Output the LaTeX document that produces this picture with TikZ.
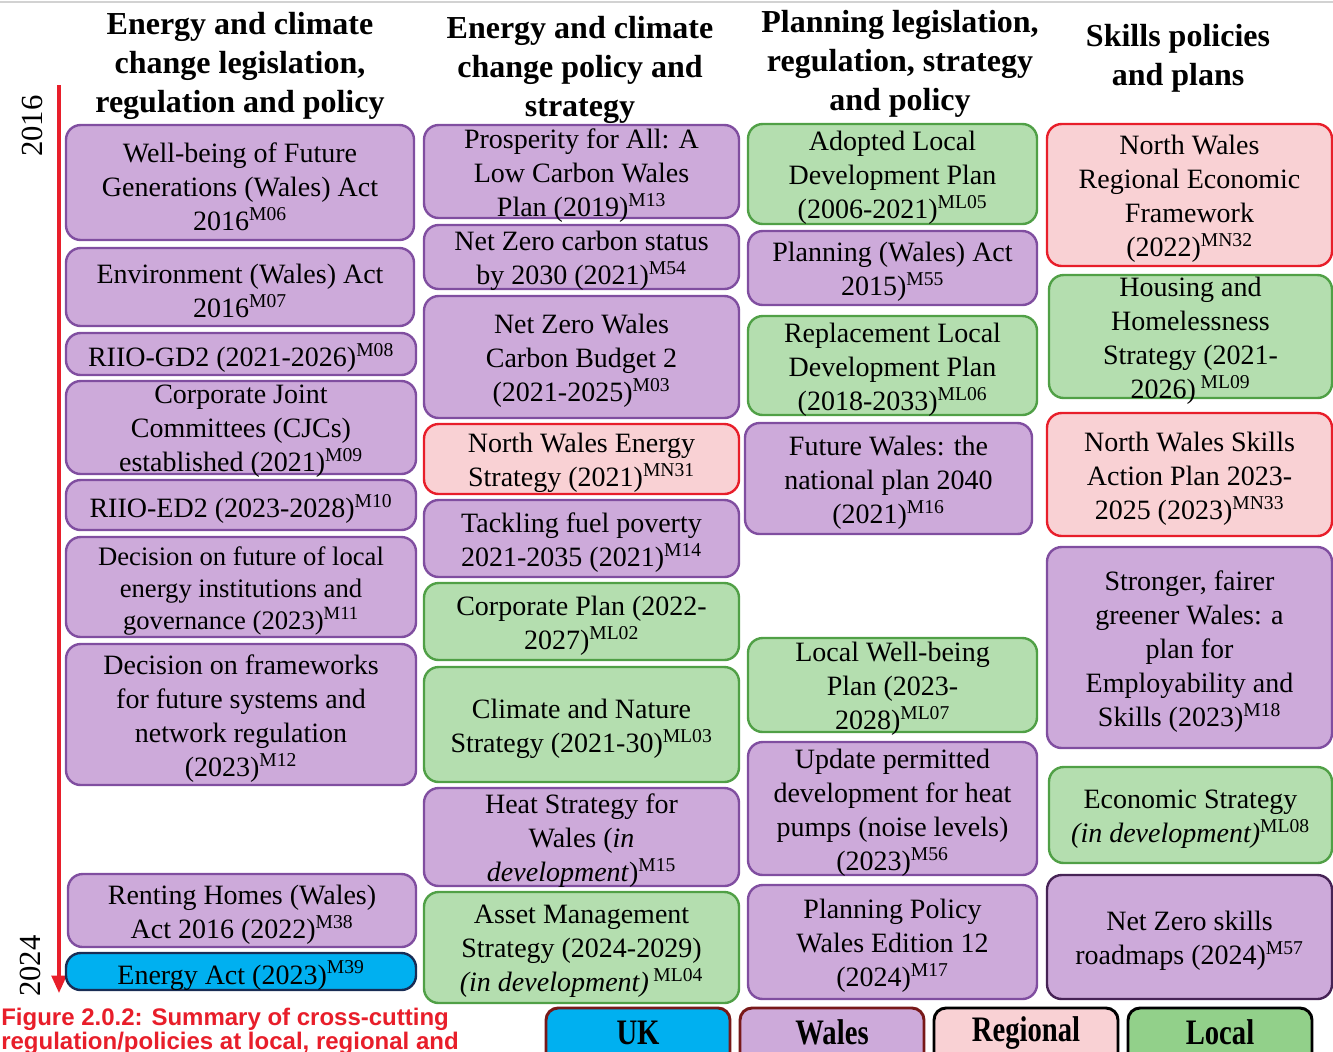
\documentclass[tikz,border=0pt]{standalone}
\usepackage{fontspec}
\usepackage{xcolor}
\usepackage{graphicx}
\usepackage{tikz}
\setmainfont{Liberation Serif}
\newfontfamily\capfont{Liberation Sans}
\usetikzlibrary{arrows.meta}

\definecolor{walesfill}{RGB}{205,170,218}
\definecolor{walesline}{RGB}{128,78,160}
\definecolor{localfill}{RGB}{180,222,175}
\definecolor{localline}{RGB}{80,160,70}
\definecolor{regfill}{RGB}{249,209,212}
\definecolor{regline}{RGB}{232,30,42}
\definecolor{ukfill}{RGB}{0,176,240}
\definecolor{ukline}{RGB}{25,45,85}
\definecolor{legfill}{RGB}{146,208,138}
\definecolor{legmaroon}{RGB}{120,25,25}
\definecolor{darkpurple}{RGB}{70,35,85}

\newcommand{\sref}[1]{\textsuperscript{#1}}
% box: [text opts], style, name, x1, y1, x2, y2, text
\newcommand{\policy}[8][]{%
  \draw[#2] (#4,#5) rectangle (#6,#7);
  \node[txt,#1] (#3) at ({(#4+#6)/2},{(#5+#7)/2}) {#8};}

\begin{document}
\begin{tikzpicture}[x=0.75pt,y=-0.75pt,
    box/.style={line width=1.8pt,rounded corners=11pt},
    wales/.style={box,draw=walesline,fill=walesfill},
    local/.style={box,draw=localline,fill=localfill},
    regional/.style={box,draw=regline,fill=regfill},
    uk/.style={box,draw=ukline,fill=ukfill},
    legbox/.style={line width=2.2pt,rounded corners=9pt},
    txt/.style={align=center,inner sep=0pt,yshift=-3pt,font=\fontsize{21}{25.5}\selectfont},
    legtxt/.style={inner sep=0pt,yshift=7pt,font=\bfseries\fontsize{21.5}{25}\selectfont},
    head/.style={align=center,inner sep=0pt,yshift=-3pt,font=\bfseries\fontsize{24}{29}\selectfont},
    year/.style={inner sep=0pt,rotate=90,font=\fontsize{23}{25}\selectfont},
    timeline/.style={draw=regline,line width=2.4pt,-{Triangle[length=13pt,width=11pt]}}]
    \useasboundingbox (0,0) rectangle (1333,1051);
    % Top rule
    \draw[gray!35,line width=1.5pt] (0,2) -- (1333,2);
    % Column headings
    \node[head] (h1) at (240,62) {Energy and climate\\change legislation,\\regulation and policy};
    \node[head] (h2) at (580,66) {Energy and climate\\change policy and\\strategy};
    \node[head] (h3) at (900,60) {Planning legislation,\\regulation, strategy\\and policy};
    \node[head] (h4) at (1178,54) {Skills policies\\and plans};
    % Timeline
    \coordinate (tstart) at (59,85);
    \coordinate (tend) at (59,993);
    \draw[timeline] (tstart) -- (tend);
    \node[year] (y2016) at (32,126) {2016};
    \node[year] (y2024) at (30,966) {2024};
    % Column 1
    \policy{wales}{wfg}{66}{125}{414}{240}{Well-being of Future\\Generations (Wales) Act\\2016\sref{M06}}
    \policy{wales}{envact}{66}{248}{414}{326}{Environment (Wales) Act\\2016\sref{M07}}
    \policy{wales}{gdtwo}{66}{333}{416}{375}{RIIO-GD2 (2021-2026)\sref{M08}}
    \policy{wales}{cjc}{66}{381}{416}{474}{Corporate Joint\\Committees (CJCs)\\established (2021)\sref{M09}}
    \policy{wales}{edtwo}{66}{480}{416}{530}{RIIO-ED2 (2023-2028)\sref{M10}}
    \policy[font=\fontsize{20}{24}\selectfont]{wales}{locgov}{66}{537}{416}{637}{Decision on future of local\\energy institutions and\\governance (2023)\sref{M11}}
    \policy{wales}{frameworks}{66}{644}{416}{785}{Decision on frameworks\\for future systems and\\network regulation\\(2023)\sref{M12}}
    \policy{wales}{renting}{68}{874}{416}{947}{Renting Homes (Wales)\\Act 2016 (2022)\sref{M38}}
    \policy{uk}{energyact}{66}{953}{416}{990}{Energy Act (2023)\sref{M39}}
    % Column 2
    \policy{wales}{prosperity}{424}{125}{739}{218}{Prosperity for All: A\\Low Carbon Wales\\Plan (2019)\sref{M13}}
    \policy{wales}{nzstatus}{424}{225}{739}{289}{Net Zero carbon status\\by 2030 (2021)\sref{M54}}
    \policy{wales}{budget}{424}{296}{739}{418}{Net Zero Wales\\Carbon Budget 2\\(2021-2025)\sref{M03}}
    \policy{regional}{nwenergy}{424}{424}{739}{494}{North Wales Energy\\Strategy (2021)\sref{MN31}}
    \policy{wales}{fuelpov}{424}{500}{739}{577}{Tackling fuel poverty\\2021-2035 (2021)\sref{M14}}
    \policy{local}{corpplan}{424}{583}{739}{660}{Corporate Plan (2022-\\2027)\sref{ML02}}
    \policy{local}{climnat}{424}{667}{739}{782}{Climate and Nature\\Strategy (2021-30)\sref{ML03}}
    \policy{wales}{heat}{424}{788}{739}{886}{Heat Strategy for\\Wales (\textit{in}\\\textit{development})\sref{M15}}
    \policy{local}{asset}{424}{892}{739}{1003}{Asset Management\\Strategy (2024-2029)\\\textit{(in development)}\,\sref{ML04}}
    % Column 3
    \policy{local}{ldp}{748}{124}{1037}{224}{Adopted Local\\Development Plan\\(2006-2021)\sref{ML05}}
    \policy{wales}{planact}{748}{231}{1037}{305}{Planning (Wales) Act\\2015)\sref{M55}}
    \policy{local}{rldp}{748}{316}{1037}{415}{Replacement Local\\Development Plan\\(2018-2033)\sref{ML06}}
    \policy{wales}{futwales}{745}{423}{1032}{534}{Future Wales: the\\national plan 2040\\(2021)\sref{M16}}
    \policy{local}{lwb}{748}{638}{1037}{732}{Local Well-being\\Plan (2023-\\2028)\sref{ML07}}
    \policy{wales}{pdheat}{748}{742}{1037}{875}{Update permitted\\development for heat\\pumps (noise levels)\\(2023)\sref{M56}}
    \policy{wales}{ppw}{748}{885}{1037}{999}{Planning Policy\\Wales Edition 12\\(2024)\sref{M17}}
    % Column 4
    \policy{regional}{nwref}{1047}{124}{1332}{266}{North Wales\\Regional Economic\\Framework\\(2022)\sref{MN32}}
    \policy{local}{housing}{1049}{275}{1332}{398}{Housing and\\Homelessness\\Strategy (2021-\\2026)\,\sref{ML09}}
    \policy{regional}{nwskills}{1047}{413}{1332}{536}{North Wales Skills\\Action Plan 2023-\\2025 (2023)\sref{MN33}}
    \policy{wales}{stronger}{1047}{547}{1332}{748}{Stronger, fairer\\greener Wales: a\\plan for\\Employability and\\Skills (2023)\sref{M18}}
    \policy{local}{econ}{1049}{767}{1332}{863}{Economic Strategy\\\textit{(in development)}\sref{ML08}}
    \policy{box,draw=darkpurple,fill=walesfill}{nzskills}{1047}{875}{1332}{999}{Net Zero skills\\roadmaps (2024)\sref{M57}}
    % Legend
    \policy[legtxt]{legbox,draw=legmaroon,fill=ukfill}{legUK}{546}{1008}{730}{1068}{\scalebox{1}[1.25]{UK}}
    \policy[legtxt]{legbox,draw=legmaroon,fill=walesfill}{legWales}{740}{1008}{924}{1068}{\scalebox{1}[1.25]{Wales}}
    \policy[legtxt]{legbox,draw=black,fill=regfill}{legRegional}{934}{1008}{1118}{1068}{\scalebox{1}[1.25]{Regional}}
    \policy[legtxt]{legbox,draw=black,fill=legfill}{legLocal}{1128}{1008}{1312}{1068}{\scalebox{1}[1.25]{Local}}
    % Caption
    \node[anchor=north west,inner sep=0pt,align=left,text=regline,
          font=\capfont\bfseries\fontsize{18}{16.5}\selectfont] (caption) at (1,1008)
          {Figure 2.0.2: Summary of cross-cutting\\regulation/policies at local, regional and};
\end{tikzpicture}
\end{document}
